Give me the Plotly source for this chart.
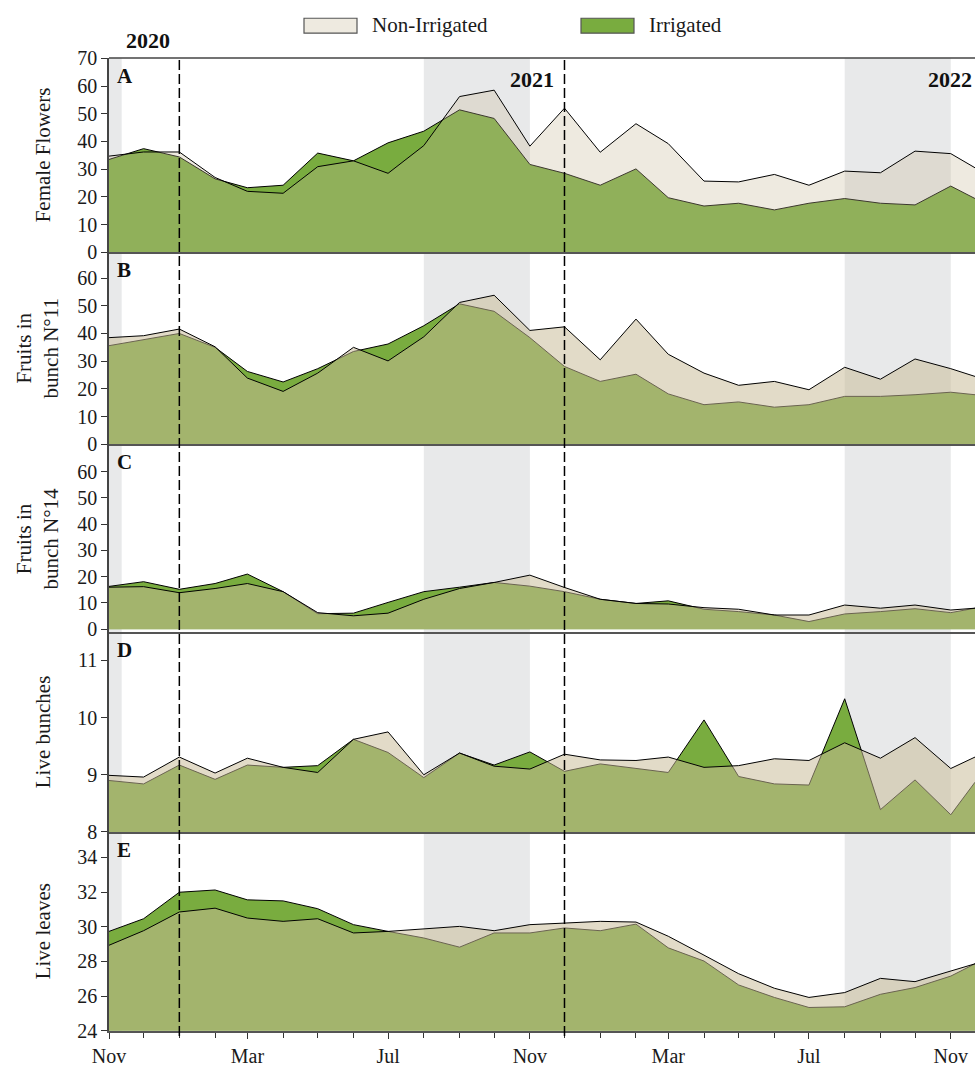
import plotly.graph_objects as go

# Monthly sampling dates (last entry is the right edge of the window)
dates = ["2020-11-01", "2020-12-01", "2021-01-01", "2021-02-01", "2021-03-01",
         "2021-04-01", "2021-05-01", "2021-06-01", "2021-07-01", "2021-08-01",
         "2021-09-01", "2021-10-01", "2021-11-01", "2021-12-01", "2022-01-01",
         "2022-02-01", "2022-03-01", "2022-04-01", "2022-05-01", "2022-06-01",
         "2022-07-01", "2022-08-01", "2022-09-01", "2022-10-01", "2022-11-01",
         "2022-11-22"]

# A - Female flowers
ff_irr = [33.5, 37.4, 34.4, 26.5, 23.3, 24.2, 35.8, 33.0, 39.5, 43.7, 51.4, 48.3, 31.7,
          28.5, 24.2, 30.1, 19.7, 16.7, 17.7, 15.3, 17.7, 19.4, 17.7, 17.1, 23.9, 19.4]
ff_non = [34.7, 36.2, 36.2, 27.0, 22.0, 21.3, 30.9, 33.0, 28.5, 38.5, 56.2, 58.5, 38.3,
          52.0, 36.1, 46.4, 39.2, 25.7, 25.4, 28.1, 24.2, 29.3, 28.7, 36.5, 35.6, 30.5]

# B - Fruits in bunch N°11
b11_irr = [35.6, 37.8, 40.0, 35.0, 26.3, 22.5, 27.3, 33.5, 36.2, 42.8, 50.7, 48.0, 38.5,
           28.1, 22.7, 25.3, 18.2, 14.3, 15.3, 13.4, 14.3, 17.3, 17.3, 17.9, 18.8, 17.9]
b11_non = [38.5, 39.2, 41.6, 35.2, 23.9, 19.1, 25.7, 35.0, 30.1, 38.8, 51.2, 53.8, 41.1,
           42.4, 30.5, 45.2, 32.5, 25.7, 21.3, 22.7, 19.7, 27.8, 23.5, 30.8, 27.3, 24.5]

# C - Fruits in bunch N°14
b14_irr = [16.3, 18.1, 15.2, 17.4, 21.0, 14.3, 5.9, 6.1, 10.2, 14.3, 16.0, 17.8, 16.4,
           14.3, 11.4, 9.8, 10.8, 7.6, 6.7, 5.4, 2.9, 5.8, 6.7, 7.8, 6.3, 8.0]
b14_non = [16.0, 16.2, 13.9, 15.5, 17.4, 14.3, 6.3, 5.1, 6.1, 11.4, 15.5, 17.8, 20.6,
           15.9, 11.4, 9.8, 9.6, 8.2, 7.6, 5.4, 5.4, 9.2, 8.0, 9.2, 7.3, 8.0]

# D - Live bunches
lb_irr = [8.90, 8.84, 9.17, 8.92, 9.17, 9.13, 9.16, 9.62, 9.39, 8.95, 9.38, 9.17, 9.40,
          9.06, 9.19, 9.11, 9.04, 9.96, 8.97, 8.84, 8.82, 10.33, 8.39, 8.91, 8.30, 8.87]
lb_non = [8.99, 8.96, 9.31, 9.03, 9.29, 9.13, 9.04, 9.62, 9.75, 9.00, 9.38, 9.15, 9.10,
          9.36, 9.26, 9.25, 9.31, 9.13, 9.16, 9.28, 9.25, 9.56, 9.29, 9.65, 9.11, 9.31]

# E - Live leaves
ll_irr = [29.73, 30.46, 31.99, 32.12, 31.55, 31.49, 31.04, 30.12, 29.73, 29.35, 28.82,
          29.64, 29.64, 29.93, 29.77, 30.15, 28.78, 28.02, 26.64, 25.92, 25.34, 25.38,
          26.10, 26.49, 27.15, 27.86]
ll_non = [28.93, 29.77, 30.85, 31.07, 30.50, 30.31, 30.46, 29.64, 29.73, 29.89, 30.02,
          29.77, 30.12, 30.21, 30.31, 30.27, 29.45, 28.36, 27.29, 26.45, 25.92, 26.20,
          27.02, 26.83, 27.44, 27.86]

# Axis ticks per panel
ticks_a = [0, 10, 20, 30, 40, 50, 60, 70]
ticks_b = [0, 10, 20, 30, 40, 50, 60]
ticks_c = [0, 10, 20, 30, 40, 50, 60]
ticks_d = [8, 9, 10, 11]
ticks_e = [24, 26, 28, 30, 32, 34]

# Dry-season bands and year boundaries
dry_seasons = [("2020-11-01", "2020-11-12"), ("2021-08-01", "2021-11-01"),
               ("2022-08-01", "2022-11-01")]
year_breaks = ["2021-01-01", "2021-12-01"]
year_labels = [("2020", 148, 40), ("2021", 532, 80), ("2022", 950, 80)]

SERIF = "Liberation Serif, Times New Roman, serif"
GREEN = "#79AC3F"
CREAM_RGB = "200,187,151"
X_RANGE = ["2020-11-01", "2022-11-22"]

W, H = 975, 1067
ML, MT, MB = 109, 58, 30
PW, PH = W - ML, H - MT - MB


def px_x(px):
    return (px - ML) / PW


def px_y(py):
    return (H - MB - py) / PH


panels = [
    ("A", "Female Flowers", ff_irr, ff_non, [0, 70], ticks_a, 0.30, (58.3, 253.5), -0.0762),
    ("B", "Fruits in<br>bunch N°11", b11_irr, b11_non, [0, 69.3], ticks_b, 0.53, (253.5, 446.7), -0.083),
    ("C", "Fruits in<br>bunch N°14", b14_irr, b14_non, [-1.25, 70.45], ticks_c, 0.53, (446.7, 636.0), -0.083),
    ("D", "Live bunches", lb_irr, lb_non, [8, 11.49], ticks_d, 0.53, (636.0, 836.7), -0.0762),
    ("E", "Live leaves", ll_irr, ll_non, [24, 35.47], ticks_e, 0.53, (836.7, 1036.7), -0.0762),
]

fig = go.Figure()
layout = dict(
    width=W, height=H,
    margin=dict(l=ML, r=0, t=MT, b=MB, pad=0),
    paper_bgcolor="white", plot_bgcolor="white",
    showlegend=False,
    font=dict(family=SERIF, color="#1a1a1a"),
)
annotations = []
shapes = []

for i, (letter, title, irr, non, yr, tv, alpha, (top, bot), tx) in enumerate(panels):
    n = i + 1
    xs = "" if n == 1 else str(n)
    fig.add_trace(go.Scatter(
        x=dates, y=irr, mode="lines", name="Irrigated",
        line=dict(color="black", width=1), fill="tozeroy", fillcolor=GREEN,
        xaxis="x" + xs, yaxis="y" + xs))
    fig.add_trace(go.Scatter(
        x=dates, y=non, mode="lines", name="Non-Irrigated",
        line=dict(color="black", width=1), fill="tozeroy",
        fillcolor=f"rgba({CREAM_RGB},{alpha})",
        xaxis="x" + xs, yaxis="y" + xs))

    last = n == len(panels)
    xa = dict(
        domain=[0, 1], range=X_RANGE, type="date", anchor="y" + xs,
        showgrid=False, zeroline=False, showline=True, linecolor="#555555", linewidth=2,
        showticklabels=last, ticks="outside" if last else "",
    )
    if n > 1:
        xa["matches"] = "x"
    if last:
        xa.update(tick0="2020-11-01", dtick="M4", tickformat="%b", ticklen=6,
                  tickcolor="#333", tickwidth=1.2,
                  tickfont=dict(family=SERIF, size=20, color="#1a1a1a"),
                  minor=dict(dtick="M1", tick0="2020-11-01", ticks="outside",
                             ticklen=5, tickcolor="#333", tickwidth=1.2))
    layout["xaxis" + xs] = xa
    layout["yaxis" + xs] = dict(
        domain=[px_y(bot), px_y(top)], range=yr, anchor="x" + xs,
        tickvals=tv, ticks="outside", ticklen=6, tickcolor="#333", tickwidth=1.2,
        showgrid=False, zeroline=False, showline=True, linecolor="#444", linewidth=1.5,
        tickfont=dict(family=SERIF, size=20, color="#1a1a1a"),
    )
    annotations.append(dict(
        text=f"<b>{letter}</b>", xref="paper", yref="paper",
        x=px_x(115), y=px_y(top + 18), xanchor="left", yanchor="middle",
        showarrow=False, font=dict(family=SERIF, size=21, color="#111")))
    annotations.append(dict(
        text=title, xref="paper", yref="paper", x=tx, y=px_y((top + bot) / 2),
        xanchor="center", yanchor="middle", textangle=-90, showarrow=False,
        font=dict(family=SERIF, size=21, color="#1a1a1a")))

# shaded dry seasons behind the data
for x0, x1 in dry_seasons:
    shapes.append(dict(type="rect", xref="x", yref="paper", x0=x0, x1=x1, y0=0, y1=1,
                       fillcolor="#E8E9EA", line=dict(width=0), layer="below"))

# year boundaries
for xb in year_breaks:
    shapes.append(dict(type="line", xref="x", yref="paper", x0=xb, x1=xb,
                       y0=px_y(1042), y1=1, layer="above",
                       line=dict(color="black", width=1.5, dash="10px,4px")))

# top frame
shapes.append(dict(type="line", xref="paper", yref="paper", x0=0, x1=1, y0=1, y1=1,
                   line=dict(color="#444", width=1.5), layer="above"))

for label, cx, cy in year_labels:
    annotations.append(dict(
        text=f"<b>{label}</b>", xref="paper", yref="paper", x=px_x(cx), y=px_y(cy),
        xanchor="center", yanchor="middle", showarrow=False,
        font=dict(family=SERIF, size=22, color="#111")))

# legend keys
legend_items = [("Non-Irrigated", f"rgba({CREAM_RGB},0.3)", 304, 357),
                ("Irrigated", GREEN, 581, 634)]
for name, color, bx0, bx1 in legend_items:
    shapes.append(dict(type="rect", xref="paper", yref="paper",
                       x0=px_x(bx0), x1=px_x(bx1), y0=px_y(33), y1=px_y(18),
                       fillcolor=color, line=dict(color="#555", width=1.2)))
    annotations.append(dict(
        text=name, xref="paper", yref="paper", x=px_x(bx1 + 13), y=px_y(25),
        xanchor="left", yanchor="middle", showarrow=False,
        font=dict(family=SERIF, size=21, color="#1a1a1a")))

layout["annotations"] = annotations
layout["shapes"] = shapes
fig.update_layout(**layout)

fig.write_html("out.html")
